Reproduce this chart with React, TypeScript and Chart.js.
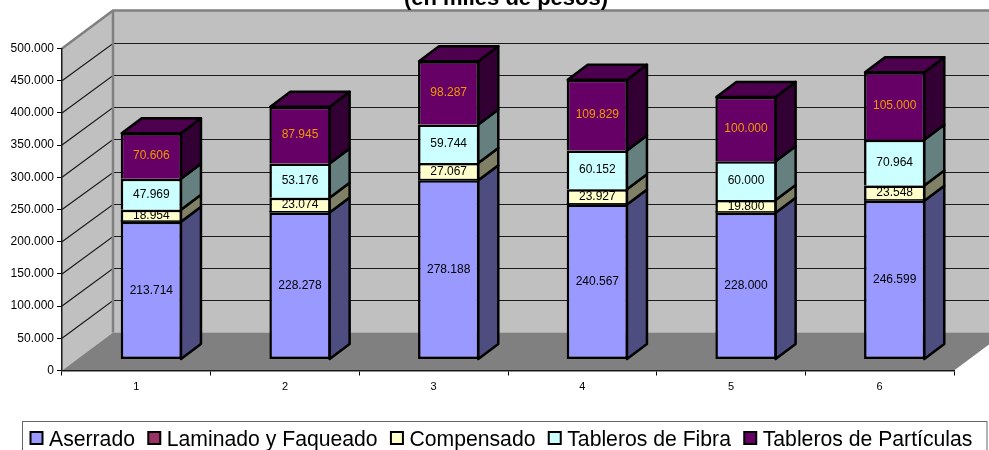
import React, { useEffect, useRef } from "react";
import { Chart, registerables } from "chart.js";

Chart.register(...registerables);

const categories = ["1", "2", "3", "4", "5", "6"];
const aserrado = [213714, 228278, 278188, 240567, 228000, 246599];
const laminado = [0, 0, 0, 0, 0, 0];
const compensado = [18954, 23074, 27067, 23927, 19800, 23548];
const fibra = [47969, 53176, 59744, 60152, 60000, 70964];
const particulas = [70606, 87945, 98287, 109829, 100000, 105000];
const titleText = "(en miles de pesos)";

const FONT = '"Liberation Sans", Arial, sans-serif';
const fmt = (v: number) => String(Math.round(v)).replace(/\B(?=(\d{3})+(?!\d))/g, ".");

// 3-D projection (pixels)
const WALL_DX = 51, WALL_DY = 38; // depth of the whole box
const BAR_DX = 15, BAR_DY = 11;     // offset of the bars' front face
const SIDE_DX = 20, SIDE_DY = 15;   // depth of the bars
const EDGE = 2.5;

const sideColors = ["#4d4d80", "#4d1a33", "#808066", "#668080", "#330033"];
const topColors = ["#7373bf", "#73264d", "#bfbf99", "#99bfbf", "#4d004d"];

function poly(ctx: CanvasRenderingContext2D, pts: number[][]) {
  ctx.beginPath();
  pts.forEach(([x, y], i) => (i ? ctx.lineTo(x, y) : ctx.moveTo(x, y)));
  ctx.closePath();
}

const box3d = {
  id: "box3d",
  beforeDraw(chart: any) {
    const { ctx, chartArea: a, scales } = chart;
    const y = scales.y;
    const L = a.left, R = a.right, B = a.bottom, T = a.top;
    ctx.save();
    // back wall
    ctx.fillStyle = "#c0c0c0";
    ctx.fillRect(L + WALL_DX, T - WALL_DY, R - L, B - T);
    // left wall
    poly(ctx, [[L, B], [L, T], [L + WALL_DX, T - WALL_DY], [L + WALL_DX, B - WALL_DY]]);
    ctx.fill();
    // floor
    ctx.fillStyle = "#808080";
    poly(ctx, [[L, B], [R, B], [R + WALL_DX, B - WALL_DY], [L + WALL_DX, B - WALL_DY]]);
    ctx.fill();
    // grid lines on the walls
    ctx.strokeStyle = "#1a1a1a";
    ctx.lineWidth = 1.2;
    y.ticks.forEach((t: any) => {
      if (t.value === 0 || t.value === y.max) return;
      const py = y.getPixelForValue(t.value);
      const by = Math.round(py - WALL_DY) + 0.5;
      ctx.beginPath();
      ctx.moveTo(L, py);
      ctx.lineTo(L + WALL_DX, by);
      ctx.lineTo(R + WALL_DX, by);
      ctx.stroke();
    });
    // wall edges
    ctx.strokeStyle = "#808080";
    ctx.lineWidth = 2.5;
    ctx.beginPath();
    ctx.moveTo(L, T);
    ctx.lineTo(L + WALL_DX, T - WALL_DY);
    ctx.lineTo(R + WALL_DX, T - WALL_DY);
    ctx.moveTo(L + WALL_DX, T - WALL_DY);
    ctx.lineTo(L + WALL_DX, B - WALL_DY);
    ctx.stroke();
    ctx.restore();
  },
  beforeDatasetsDraw(chart: any) {
    const { ctx } = chart;
    ctx.save();
    ctx.translate(BAR_DX, -BAR_DY);
    // right faces and roof, from the bars' own elements
    ctx.lineWidth = EDGE;
    ctx.strokeStyle = "#000";
    ctx.lineJoin = "round";
    const n = chart.data.datasets.length;
    chart.data.datasets.forEach((ds: any, d: number) => {
      chart.getDatasetMeta(d).data.forEach((el: any) => {
        const xr = el.x + el.width / 2 - 1;
        const xl = el.x - el.width / 2 + 1;
        if (el.base - el.y > 0.5) {
          ctx.fillStyle = sideColors[d];
          poly(ctx, [[xr, el.y], [xr + SIDE_DX, el.y - SIDE_DY], [xr + SIDE_DX, el.base - SIDE_DY], [xr, el.base]]);
          ctx.fill();
          ctx.stroke();
        }
        if (d === n - 1) {
          ctx.fillStyle = topColors[d];
          poly(ctx, [[xl, el.y], [xl + SIDE_DX, el.y - SIDE_DY], [xr + SIDE_DX, el.y - SIDE_DY], [xr, el.y]]);
          ctx.fill();
          ctx.stroke();
        }
      });
    });
  },
  afterDatasetsDraw(chart: any) {
    const { ctx } = chart;
    ctx.textAlign = "center";
    ctx.textBaseline = "middle";
    ctx.font = `12px ${FONT}`;
    chart.data.datasets.forEach((ds: any, d: number) => {
      chart.getDatasetMeta(d).data.forEach((el: any, i: number) => {
        const v = ds.data[i];
        if (!v) {
          // a zero-height segment leaves a thicker black line
          ctx.fillStyle = "#000";
          ctx.fillRect(el.x - el.width / 2, el.y - 1.5, el.width, 1.5);
          return;
        }
        ctx.fillStyle = d === chart.data.datasets.length - 1 ? "#f09a00" : "#000";
        ctx.fillText(fmt(v), el.x, (el.y + el.base) / 2);
      });
    });
    ctx.restore();
  },
  afterDraw(chart: any) {
    const { ctx } = chart;
    ctx.save();
    // title, cut by the top of the picture as in the reference
    ctx.fillStyle = "#000";
    ctx.font = `bold 22px ${FONT}`;
    ctx.textAlign = "center";
    ctx.textBaseline = "alphabetic";
    ctx.fillText(titleText, 506, 5);
    // legend
    ctx.fillStyle = "#fff";
    ctx.strokeStyle = "#666";
    ctx.lineWidth = 1;
    ctx.fillRect(22.5, 421.5, 964.5, 40);
    ctx.strokeRect(22.5, 421.5, 964.5, 40);
    ctx.font = `21.2px ${FONT}`;
    ctx.textAlign = "left";
    let x = 30.5;
    chart.data.datasets.forEach((ds: any) => {
      ctx.fillStyle = ds.backgroundColor;
      ctx.strokeStyle = "#000";
      ctx.lineWidth = 2;
      ctx.fillRect(x, 432, 12, 12);
      ctx.strokeRect(x, 432, 12, 12);
      ctx.fillStyle = "#000";
      ctx.fillText(ds.label, x + 18.5, 446);
      x += 19 + ctx.measureText(ds.label).width + 12.8;
    });
    ctx.restore();
  },
};

const ds = (label: string, data: number[], color: string, skipped: any) => ({
  label,
  data,
  backgroundColor: color,
  borderColor: "#000",
  borderWidth: EDGE,
  borderSkipped: skipped,
  clip: false as const,
});

export default function App() {
  const ref = useRef<HTMLCanvasElement>(null);
  useEffect(() => {
    document.body.style.margin = "0";
    const chart = new Chart(ref.current!, {
      type: "bar",
      data: {
        labels: categories,
        datasets: [
          ds("Aserrado", aserrado, "#9999ff", false),
          ds("Laminado y Faqueado", laminado, "#993366", "start"),
          ds("Compensado", compensado, "#ffffcc", "start"),
          ds("Tableros de Fibra", fibra, "#ccffff", "start"),
          ds("Tableros de Partículas", particulas, "#660066", "start"),
        ],
      },
      options: {
        responsive: false,
        animation: false,
        devicePixelRatio: 1,
        events: [],
        layout: { padding: { top: 48.5, right: 35, left: 0, bottom: 0 } },
        datasets: { bar: { barPercentage: 0.412, categoryPercentage: 1 } },
        plugins: { legend: { display: false }, title: { display: false }, tooltip: { enabled: false } },
        scales: {
          x: {
            stacked: true,
            afterFit: (s: any) => { s.height = 79.5; },
            border: { color: "#1a1a1a", width: 1.5 },
            grid: { offset: true, drawOnChartArea: false, drawTicks: true, tickLength: 5, color: "#000" },
            ticks: { color: "#000", font: { size: 11, family: FONT }, padding: 5, maxRotation: 0 },
          },
          y: {
            stacked: true,
            min: 0,
            max: 500000,
            afterFit: (s: any) => { s.width = 62; },
            border: { color: "#1a1a1a", width: 1.5 },
            grid: { drawOnChartArea: false, drawTicks: true, tickLength: 5, color: "#000" },
            ticks: {
              stepSize: 50000,
              color: "#000",
              font: { size: 12, family: FONT },
              padding: 3,
              callback: (v: any) => fmt(Number(v)),
            },
          },
        },
      },
      plugins: [box3d],
    } as any);
    return () => chart.destroy();
  }, []);
  return <canvas ref={ref} width={989} height={450} style={{ display: "block", width: 989, height: 450 }} />;
}
